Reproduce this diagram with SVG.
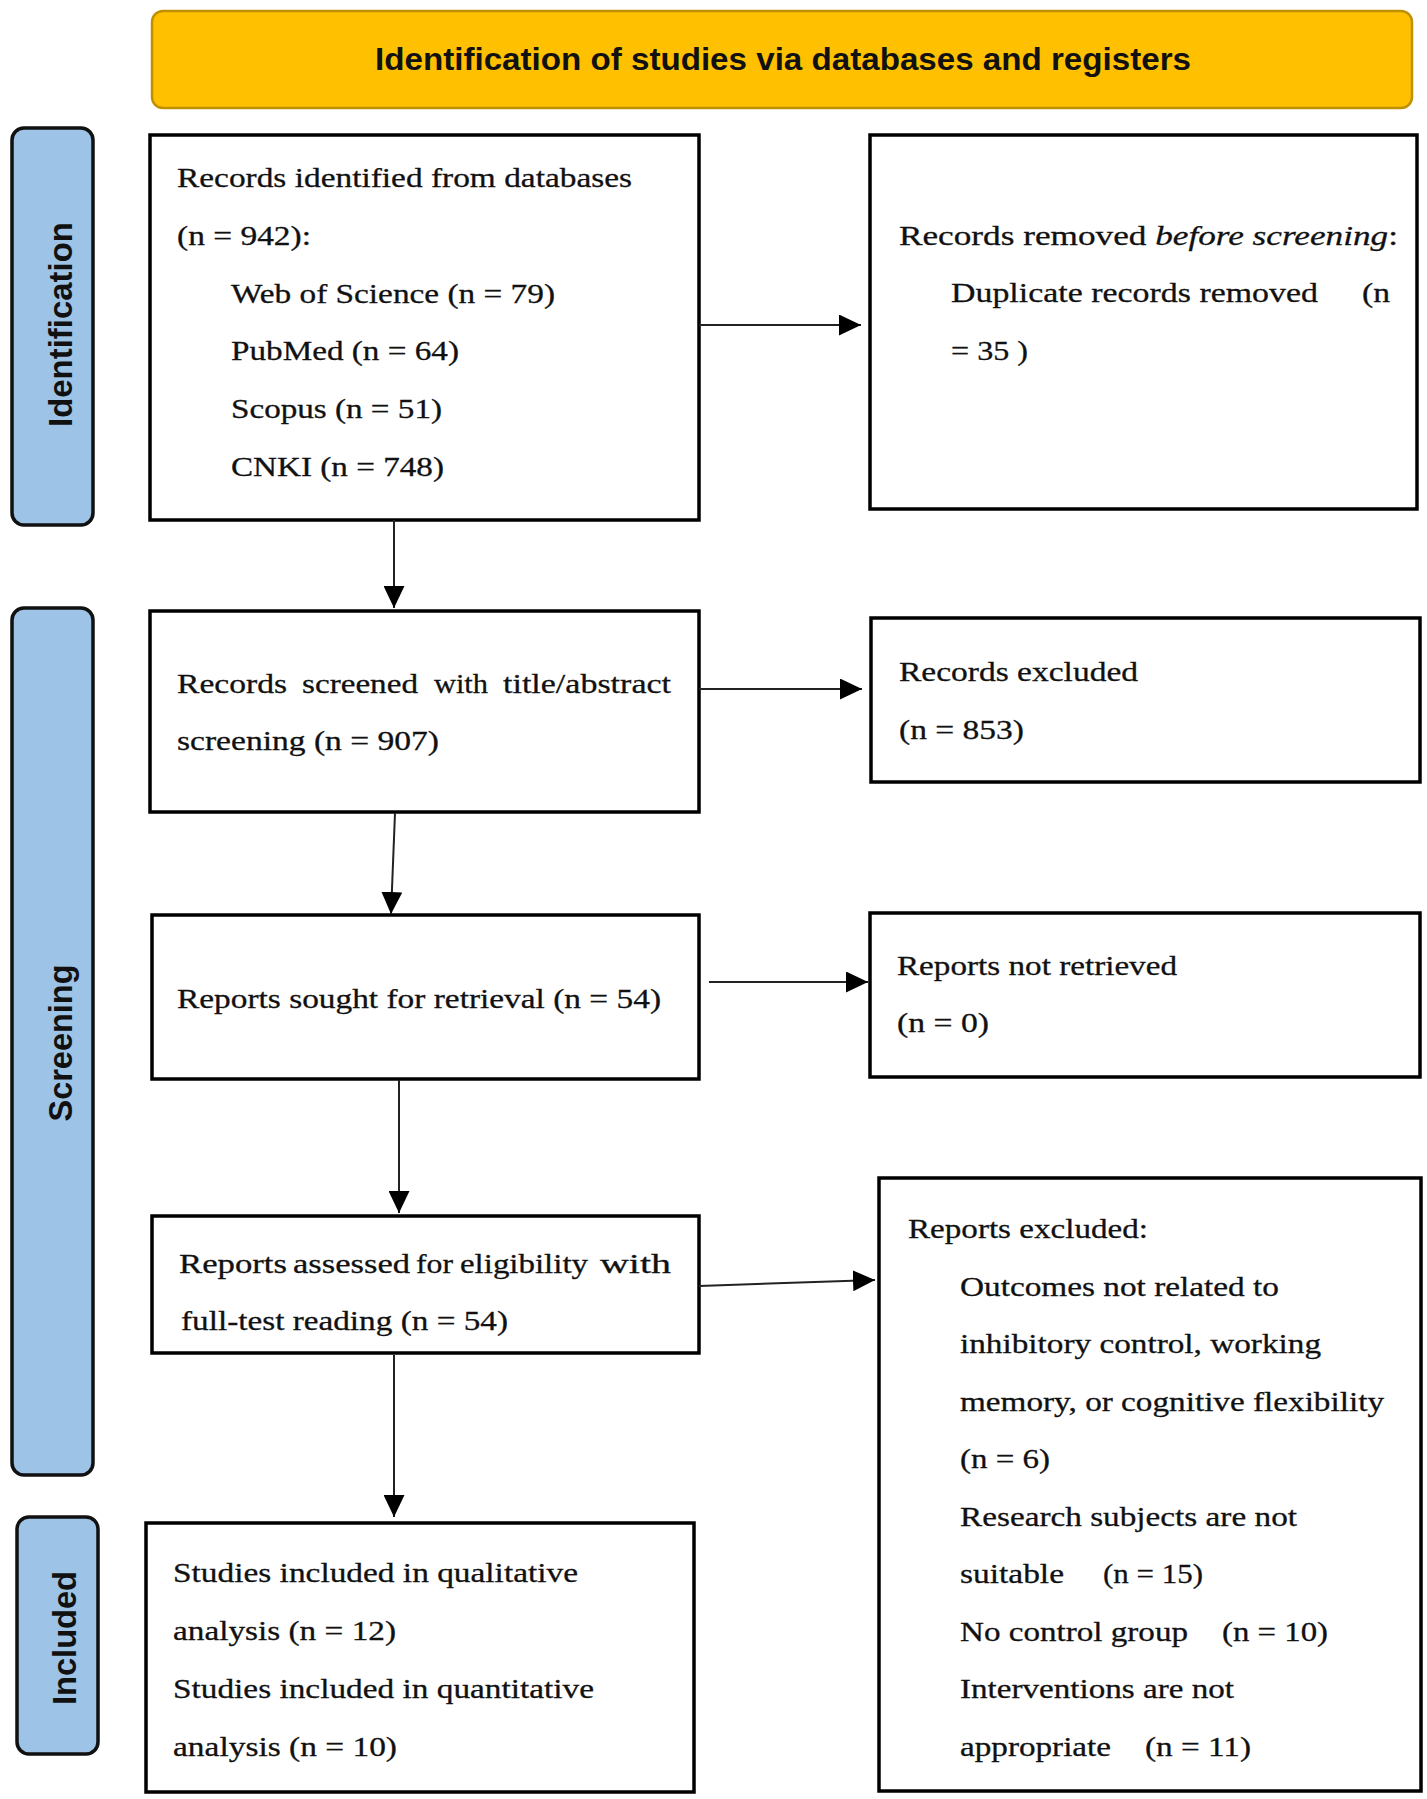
<svg xmlns="http://www.w3.org/2000/svg" width="1427" height="1799" viewBox="0 0 1427 1799">
<style>
.box{fill:#fff;stroke:#000;stroke-width:3.5}
.side{fill:#9DC3E6;stroke:#111;stroke-width:3.5}
.banner{fill:#FFC000;stroke:#BF9000;stroke-width:2.5}
.t{font-family:"Liberation Serif","Times New Roman",serif;font-size:28px;fill:#111;stroke:#111;stroke-width:0.3}
.st{font-family:"Liberation Sans",Arial,sans-serif;font-size:33px;font-weight:bold;fill:#111}
.bt{font-family:"Liberation Sans",Arial,sans-serif;font-size:32px;font-weight:bold;fill:#111}
.con{stroke:#222;stroke-width:2;fill:none}
</style>
<defs>
<marker id="ah" markerUnits="userSpaceOnUse" markerWidth="22" markerHeight="21" refX="22" refY="10.5" orient="auto">
<path d="M0,0 L22,10.5 L0,21 Z" fill="#000"/>
</marker>
</defs>

<g id="banner">
<rect class="banner" x="152" y="11" width="1260" height="97" rx="11"/>
<text class="bt" x="375" y="70" textLength="816" lengthAdjust="spacingAndGlyphs">Identification of studies via databases and registers</text>
</g>

<g id="side-identification">
<rect class="side" x="12" y="128" width="81" height="397" rx="12"/>
<text class="st" transform="translate(72,324.5) rotate(-90)" text-anchor="middle" textLength="205" lengthAdjust="spacingAndGlyphs">Identification</text>
</g>
<g id="side-screening">
<rect class="side" x="12" y="608" width="81" height="867" rx="12"/>
<text class="st" transform="translate(72,1043) rotate(-90)" text-anchor="middle" textLength="157" lengthAdjust="spacingAndGlyphs">Screening</text>
</g>
<g id="side-included">
<rect class="side" x="17" y="1517" width="81" height="237" rx="12"/>
<text class="st" transform="translate(76,1638) rotate(-90)" text-anchor="middle" textLength="134" lengthAdjust="spacingAndGlyphs">Included</text>
</g>

<g id="records-identified">
<rect class="box" x="150" y="135" width="549" height="385"/>
<text class="t" x="177" y="187" textLength="455" lengthAdjust="spacingAndGlyphs">Records identified from databases</text>
<text class="t" x="177" y="245" textLength="134" lengthAdjust="spacingAndGlyphs">(n = 942):</text>
<text class="t" x="231" y="303" textLength="324" lengthAdjust="spacingAndGlyphs">Web of Science (n = 79)</text>
<text class="t" x="231" y="360" textLength="228" lengthAdjust="spacingAndGlyphs">PubMed (n = 64)</text>
<text class="t" x="231" y="418" textLength="211" lengthAdjust="spacingAndGlyphs">Scopus (n = 51)</text>
<text class="t" x="231" y="476" textLength="213" lengthAdjust="spacingAndGlyphs">CNKI (n = 748)</text>
</g>

<g id="records-removed">
<rect class="box" x="870" y="135" width="547" height="374"/>
<text class="t" x="899" y="245" textLength="499" lengthAdjust="spacingAndGlyphs">Records removed <tspan font-style="italic">before screening</tspan>:</text>
<text class="t" x="951" y="302" textLength="367" lengthAdjust="spacingAndGlyphs">Duplicate records removed</text>
<text class="t" x="1362" y="302" textLength="28" lengthAdjust="spacingAndGlyphs">(n</text>
<text class="t" x="951" y="360" textLength="77" lengthAdjust="spacingAndGlyphs">= 35 )</text>
</g>

<g id="records-screened">
<rect class="box" x="150" y="611" width="549" height="201"/>
<text class="t" x="177" y="693" textLength="110" lengthAdjust="spacingAndGlyphs">Records</text>
<text class="t" x="302" y="693" textLength="116" lengthAdjust="spacingAndGlyphs">screened</text>
<text class="t" x="434" y="693" textLength="54" lengthAdjust="spacingAndGlyphs">with</text>
<text class="t" x="503" y="693" textLength="168" lengthAdjust="spacingAndGlyphs">title/abstract</text>
<text class="t" x="177" y="750" textLength="262" lengthAdjust="spacingAndGlyphs">screening (n = 907)</text>
</g>

<g id="records-excluded">
<rect class="box" x="871" y="618" width="549" height="164"/>
<text class="t" x="899" y="681" textLength="239" lengthAdjust="spacingAndGlyphs">Records excluded</text>
<text class="t" x="899" y="739" textLength="125" lengthAdjust="spacingAndGlyphs">(n = 853)</text>
</g>

<g id="reports-sought">
<rect class="box" x="152" y="915" width="547" height="164"/>
<text class="t" x="177" y="1008" textLength="484" lengthAdjust="spacingAndGlyphs">Reports sought for retrieval (n = 54)</text>
</g>

<g id="reports-not-retrieved">
<rect class="box" x="870" y="913" width="550" height="164"/>
<text class="t" x="897" y="975" textLength="280" lengthAdjust="spacingAndGlyphs">Reports not retrieved</text>
<text class="t" x="897" y="1032" textLength="92" lengthAdjust="spacingAndGlyphs">(n = 0)</text>
</g>

<g id="reports-assessed">
<rect class="box" x="152" y="1216" width="547" height="137"/>
<text class="t" x="179" y="1273" textLength="108" lengthAdjust="spacingAndGlyphs">Reports</text>
<text class="t" x="293" y="1273" textLength="117" lengthAdjust="spacingAndGlyphs">assessed</text>
<text class="t" x="416" y="1273" textLength="37" lengthAdjust="spacingAndGlyphs">for</text>
<text class="t" x="460" y="1273" textLength="128" lengthAdjust="spacingAndGlyphs">eligibility</text>
<text class="t" x="600" y="1273" textLength="71" lengthAdjust="spacingAndGlyphs">with</text>
<text class="t" x="181" y="1330" textLength="327" lengthAdjust="spacingAndGlyphs">full-test reading (n = 54)</text>
</g>

<g id="reports-excluded">
<rect class="box" x="879" y="1178" width="542" height="613"/>
<text class="t" x="908" y="1238" textLength="240" lengthAdjust="spacingAndGlyphs">Reports excluded:</text>
<text class="t" x="960" y="1295.5" textLength="319" lengthAdjust="spacingAndGlyphs">Outcomes not related to</text>
<text class="t" x="960" y="1353" textLength="361" lengthAdjust="spacingAndGlyphs">inhibitory control, working</text>
<text class="t" x="960" y="1410.5" textLength="424" lengthAdjust="spacingAndGlyphs">memory, or cognitive flexibility</text>
<text class="t" x="960" y="1468" textLength="90" lengthAdjust="spacingAndGlyphs">(n = 6)</text>
<text class="t" x="960" y="1525.5" textLength="337" lengthAdjust="spacingAndGlyphs">Research subjects are not</text>
<text class="t" x="960" y="1583" textLength="104" lengthAdjust="spacingAndGlyphs">suitable</text>
<text class="t" x="1103" y="1583" textLength="100" lengthAdjust="spacingAndGlyphs">(n = 15)</text>
<text class="t" x="960" y="1640.5" textLength="228" lengthAdjust="spacingAndGlyphs">No control group</text>
<text class="t" x="1222" y="1640.5" textLength="106" lengthAdjust="spacingAndGlyphs">(n = 10)</text>
<text class="t" x="960" y="1698" textLength="274" lengthAdjust="spacingAndGlyphs">Interventions are not</text>
<text class="t" x="960" y="1755.5" textLength="151" lengthAdjust="spacingAndGlyphs">appropriate</text>
<text class="t" x="1145" y="1755.5" textLength="106" lengthAdjust="spacingAndGlyphs">(n = 11)</text>
</g>

<g id="studies-included">
<rect class="box" x="146" y="1523" width="548" height="269"/>
<text class="t" x="173" y="1582" textLength="405" lengthAdjust="spacingAndGlyphs">Studies included in qualitative</text>
<text class="t" x="173" y="1640" textLength="223" lengthAdjust="spacingAndGlyphs">analysis (n = 12)</text>
<text class="t" x="173" y="1698" textLength="421" lengthAdjust="spacingAndGlyphs">Studies included in quantitative</text>
<text class="t" x="173" y="1756" textLength="224" lengthAdjust="spacingAndGlyphs">analysis (n = 10)</text>
</g>

<g id="connectors">
<line class="con" x1="699" y1="325" x2="861" y2="325" marker-end="url(#ah)"/>
<line class="con" x1="394" y1="520" x2="394" y2="608" marker-end="url(#ah)"/>
<line class="con" x1="699" y1="689" x2="862" y2="689" marker-end="url(#ah)"/>
<line class="con" x1="395" y1="813" x2="391" y2="914" marker-end="url(#ah)"/>
<line class="con" x1="709" y1="982" x2="868" y2="982" marker-end="url(#ah)"/>
<line class="con" x1="399" y1="1080" x2="399" y2="1213" marker-end="url(#ah)"/>
<line class="con" x1="699" y1="1286" x2="875" y2="1280" marker-end="url(#ah)"/>
<line class="con" x1="394" y1="1355" x2="394" y2="1517" marker-end="url(#ah)"/>
</g>
</svg>
